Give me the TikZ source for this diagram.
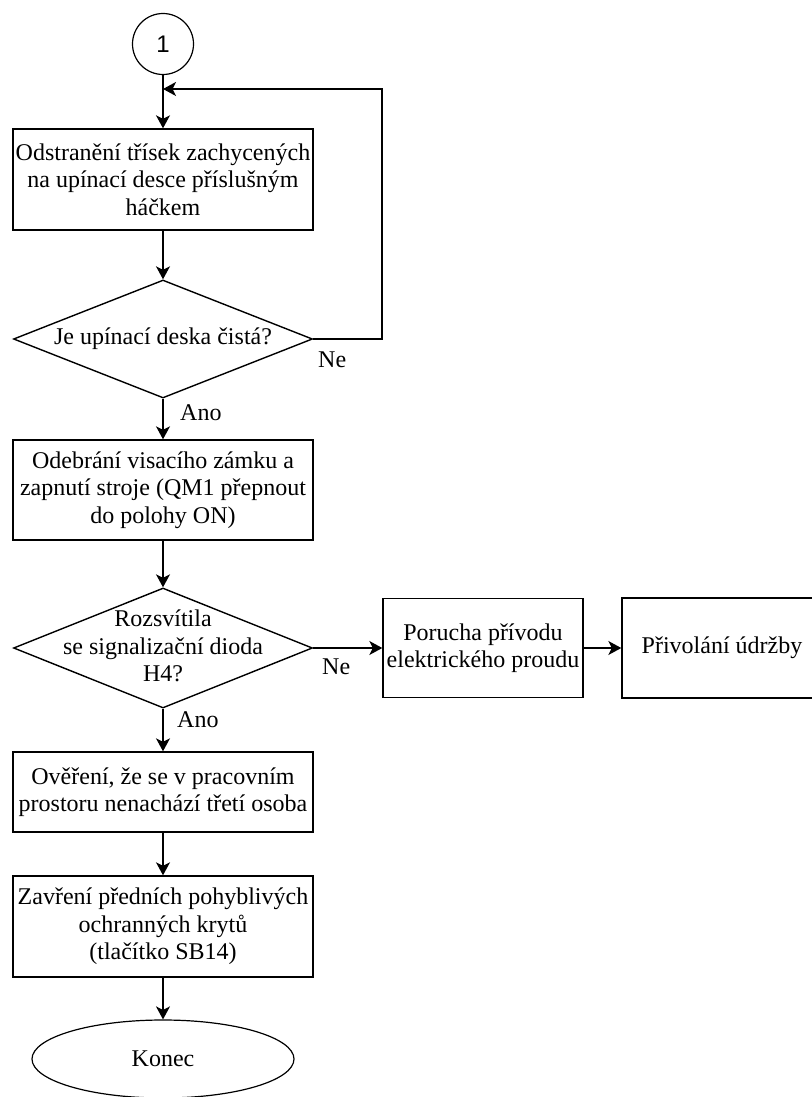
\documentclass[tikz,border=0pt]{standalone}
\usepackage{fontspec}
\setmainfont{Liberation Serif}
\newfontfamily\cislofont{Liberation Sans}
\usepackage{tikz}
\usetikzlibrary{positioning,shapes.geometric,arrows.meta}

\begin{document}
\begin{tikzpicture}[x=1pt,y=-1pt,
		txt/.style={font=\fontsize{24}{27.5}\selectfont, align=center, inner sep=0pt},
		krok/.style={txt, draw, line width=1.4pt, minimum width=300pt},
		rozhod/.style={diamond, draw, line width=1.4pt, minimum width=299pt, inner sep=0pt},
		hrana/.style={line width=1.4pt, -{Stealth[length=13pt,width=14pt,inset=3.5pt]}}]
	\useasboundingbox (0,0) rectangle (811,1097);
	
	% spojka na začátku
	\node[draw, circle, line width=1.2pt, minimum size=61pt, inner sep=0pt,
		font=\cislofont\fontsize{24}{24}\selectfont] (start) at (163,44) {1};
	
	% hlavní větev
	\node[krok, minimum height=101pt] (k1) at (163,179.5) {Odstranění třísek zachycených\\na upínací desce příslušným\\háčkem};
	\node[rozhod, minimum height=118pt] (r1) at (163,339) {};
	\node[txt] (r1t) at (r1) {Je upínací deska čistá?};
	\node[krok, minimum height=100pt] (k2) at (163,490) {Odebrání visacího zámku a\\zapnutí stroje (QM1 přepnout\\do polohy ON)};
	\node[rozhod, minimum height=120pt] (r2) at (163,648) {};
	\node[txt] (r2t) at (163,646) {Rozsvítila\\se signalizační dioda\\H4?};
	\node[krok, minimum height=80pt] (k5) at (163,792) {Ověření, že se v pracovním\\prostoru nenachází třetí osoba};
	\node[krok, minimum height=101pt] (k6) at (163,926.5) {Zavření předních pohyblivých\\ochranných krytů\\(tlačítko SB14)};
	\node[txt, ellipse, draw, line width=1.2pt, minimum width=262pt, minimum height=78pt] (konec) at (163,1059) {Konec};
	
	% vedlejší větev
	\node[krok, minimum width=200pt, minimum height=99pt] (k3) at (483,648) {Porucha přívodu\\elektrického proudu};
	\node[krok, minimum width=200pt, minimum height=100pt] (k4) at (722,648) {Přivolání údržby};
	
	% body pro zpětnou smyčku
	\coordinate (navrat) at (163,89);
	\coordinate (roh) at (382,89);
	
	% spoje
	\draw[hrana] (start) -- (k1);
	\draw[hrana] (k1) -- (r1);
	\draw[hrana] (r1) -- (k2);
	\draw[hrana] (k2) -- (r2);
	\draw[hrana] (r2) -- (k5);
	\draw[hrana] (k5) -- (k6);
	\draw[hrana] (k6) -- (konec);
	\draw[hrana] (r1.east) -| (roh) -- (navrat);
	\draw[hrana] (r2.east) -- (k3.west);
	\draw[hrana] (k3) -- (k4);
	
	% popisky větví
	\node[txt, anchor=west] (ano1) at (180,413) {Ano};
	\node[txt, anchor=west] (ano2) at (177,720) {Ano};
	\node[txt, anchor=west] (ne1) at (318,360) {Ne};
	\node[txt, anchor=west] (ne2) at (322,667) {Ne};
\end{tikzpicture}
\end{document}
